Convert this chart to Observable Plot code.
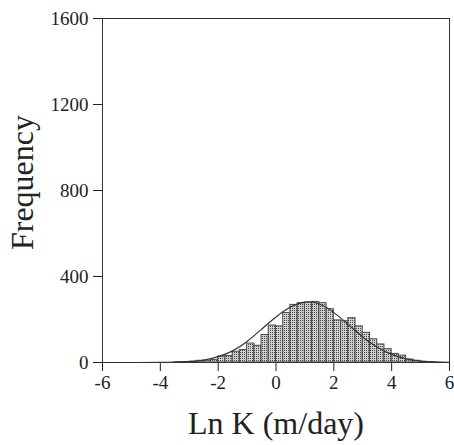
<!DOCTYPE html>
<html><head><meta charset="utf-8">
<script src="https://cdn.jsdelivr.net/npm/d3@7"></script>
<script src="https://cdn.jsdelivr.net/npm/@observablehq/plot@0.6"></script>
<style>body{margin:0;background:#fff}</style>
</head><body><div id="chart"></div>
<script>
const binWidth = 0.25;
const binStarts = [-3.5,-3.25,-3,-2.75,-2.5,-2.25,-2,-1.75,-1.5,-1.25,-1,-0.75,-0.5,-0.25,0,0.25,0.5,0.75,1,1.25,1.5,1.75,2,2.25,2.5,2.75,3,3.25,3.5,3.75,4,4.25,4.5,4.75,5,5.25];
const counts = [1,2,4,8,8,12,28,30,50,58,88,78,128,172,168,230,268,276,278,282,276,248,196,192,206,168,138,108,84,62,40,32,14,8,3,1];
const curveX = [-6,-5,-4,-3.5,-3,-2.5,-2,-1.5,-1,-0.5,0,0.5,1,1.5,2,2.5,3,3.5,4,4.5,5,5.5,6];
const curveY = [0,0,0.5,1.5,4,11,27,54,98,155,212,258,281,272,232,177,119,71,38,17,7,2.5,1];
const xTicks = [-6,-4,-2,0,2,4,6];
const yTicks = [0,400,800,1200,1600];

const bars = binStarts.map((b,i)=>({x1:b, x2:b+binWidth, y:counts[i]}));
const curve = curveX.map((x,i)=>({x, y:curveY[i]}));

const svg = Plot.plot({
  width: 454, height: 445,
  marginLeft: 102, marginRight: 5, marginTop: 18, marginBottom: 83,
  style: {fontFamily: "'Liberation Serif', serif", fontSize: "19px", color: "#222", background: "#fff"},
  x: {domain: [-6, 6], ticks: xTicks, tickSize: 9, tickPadding: 4, label: null, tickFormat: d=>String(d)},
  y: {domain: [0, 1600], ticks: yTicks, tickSize: 9, tickPadding: 5, label: null, tickFormat: d=>String(d)},
  marks: [
    Plot.rectY(bars, {x1:"x1", x2:"x2", y:"y", fill:"url(#stip)", stroke:"#4a4a4a", strokeWidth:1}),
    Plot.line(curve, {x:"x", y:"y", curve:"natural", stroke:"#333", strokeWidth:1.2}),
    Plot.frame({stroke:"#333", strokeWidth:1}),
    Plot.text(["Frequency"], {frameAnchor:"left", rotate:-90, dx:-80, dy:-8, fontSize:32, fill:"#222", textAnchor:"middle", lineAnchor:"middle"}),
    Plot.text(["Ln K (m/day)"], {frameAnchor:"bottom", dy:61, fontSize:32, fill:"#222", textAnchor:"middle", lineAnchor:"middle"})
  ]
});
d3.select(svg).insert("defs", ":first-child").html(
  '<pattern id="stip" width="2" height="2" patternUnits="userSpaceOnUse"><rect width="2" height="2" fill="#d0d0d0"/><rect width="1" height="1" fill="#444"/></pattern>'
);
document.getElementById("chart").appendChild(svg);
</script></body></html>
